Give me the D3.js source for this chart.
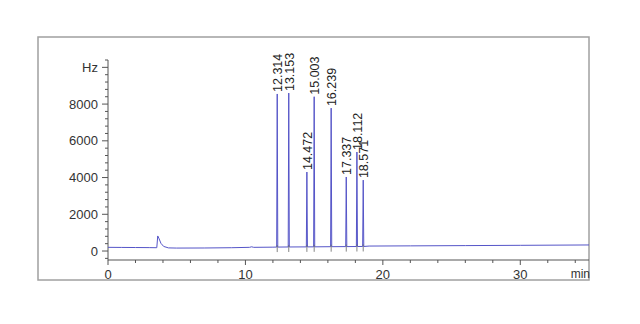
<!DOCTYPE html>
<html>
<head>
<meta charset="utf-8">
<script src="https://cdn.jsdelivr.net/npm/d3@7"></script>
<style>
  body { margin: 0; background: #fff; }
  svg { display: block; font-family: "Liberation Sans", Arial, sans-serif; }
</style>
</head>
<body>
<div id="chart"></div>
<script>
// retention times (min) and apex heights (Hz) of the labelled peaks
const peakTimes = [12.314, 13.153, 14.472, 15.003, 16.239, 17.337, 18.112, 18.571];
const peakHeights = [8550, 8600, 4300, 8400, 7780, 4030, 5390, 3860];
const peakLabels = ["12.314", "13.153", "14.472", "15.003", "16.239", "17.337", "18.112", "18.571"];

// detector trace (min, Hz) outside the labelled peaks
const traceTime = [0, 1, 2, 3, 3.55, 3.62, 3.7, 3.85, 4.05, 4.4, 5, 7, 9, 10.3, 10.45, 10.6, 12];
const traceHz = [200, 195, 190, 185, 180, 820, 700, 420, 250, 170, 160, 165, 180, 200, 230, 200, 210];
const tailTime = [19, 22, 26, 30, 35];
const tailHz = [270, 280, 295, 310, 330];
// baseline under each peak
const peakBase = [215, 220, 225, 228, 235, 240, 245, 248];

const xTicks = [0, 10, 20, 30];
const yTicks = [0, 2000, 4000, 6000, 8000];

const width = 640, height = 324;
const svg = d3.select("#chart").append("svg")
    .attr("width", width)
    .attr("height", height);

// outer frame
svg.append("rect")
    .attr("x", 38).attr("y", 37)
    .attr("width", 551).attr("height", 243)
    .attr("fill", "none")
    .attr("stroke", "#a0a0a0")
    .attr("stroke-width", 1.5);

const x = d3.scaleLinear().domain([0, 35]).range([108, 589]);
const y = d3.scaleLinear().domain([-500, 10400]).range([260.2, 60]);

const axisColor = "#555";

// x axis
const xg = svg.append("g").attr("transform", "translate(0,260)");
xg.append("line").attr("x1", x(0)).attr("x2", x(35)).attr("stroke", axisColor);
xg.selectAll(".minor").data(d3.range(2, 35, 2).filter(d => d % 10 !== 0))
    .join("line")
    .attr("x1", d => x(d)).attr("x2", d => x(d))
    .attr("y1", 0).attr("y2", 3)
    .attr("stroke", axisColor);
xg.selectAll(".major").data(xTicks)
    .join("line")
    .attr("x1", d => x(d)).attr("x2", d => x(d))
    .attr("y1", 0).attr("y2", 5)
    .attr("stroke", axisColor);
xg.selectAll("text").data(xTicks)
    .join("text")
    .attr("x", d => x(d))
    .attr("y", 19)
    .attr("text-anchor", "middle")
    .attr("font-size", 13)
    .attr("fill", "#333")
    .text(d => d);
xg.append("text")
    .attr("x", 590).attr("y", 18)
    .attr("text-anchor", "end")
    .attr("font-size", 12)
    .attr("fill", "#333")
    .text("min");

// y axis
const yg = svg.append("g").attr("transform", "translate(108,0)");
yg.append("line").attr("y1", y(-500)).attr("y2", y(10400)).attr("stroke", axisColor);
yg.selectAll(".minor").data(d3.range(-400, 10401, 400).filter(d => d % 2000 !== 0))
    .join("line")
    .attr("x1", -3).attr("x2", 0)
    .attr("y1", d => y(d)).attr("y2", d => y(d))
    .attr("stroke", axisColor);
yg.selectAll(".major").data(yTicks.concat([10000]))
    .join("line")
    .attr("x1", -6).attr("x2", 0)
    .attr("y1", d => y(d)).attr("y2", d => y(d))
    .attr("stroke", axisColor);
yg.selectAll("text").data(yTicks.concat([10000]))
    .join("text")
    .attr("x", -10)
    .attr("y", d => y(d))
    .attr("dy", "0.35em")
    .attr("text-anchor", "end")
    .attr("font-size", 13)
    .attr("fill", "#333")
    .text(d => d === 10000 ? "Hz" : d);

// build the trace from the arrays
const points = traceTime.map((t, i) => [t, traceHz[i]]);
peakTimes.forEach((t, i) => {
    points.push([t - 0.04, peakBase[i]]);
    points.push([t, peakHeights[i]]);
    points.push([t + 0.04, peakBase[i]]);
});
tailTime.forEach((t, i) => points.push([t, tailHz[i]]));
points.sort((a, b) => a[0] - b[0]);

svg.append("path")
    .datum(points)
    .attr("fill", "none")
    .attr("stroke", "#5555c8")
    .attr("stroke-width", 1)
    .attr("d", d3.line().x(d => x(d[0])).y(d => y(d[1])));

// integration marks under the peaks
svg.selectAll(".mark").data(peakTimes)
    .join("line")
    .attr("x1", d => x(d)).attr("x2", d => x(d))
    .attr("y1", (d, i) => y(peakBase[i]) - 2)
    .attr("y2", (d, i) => y(peakBase[i]) + 5)
    .attr("stroke", "#666")
    .attr("stroke-width", 0.8);

// peak labels
svg.selectAll(".plabel").data(peakTimes)
    .join("text")
    .attr("transform", (d, i) => `translate(${x(d)},${y(peakHeights[i]) - 2}) rotate(-90)`)
    .attr("dy", "0.4em")
    .attr("font-size", 12.5)
    .attr("fill", "#222")
    .text((d, i) => peakLabels[i]);
</script>
</body>
</html>
